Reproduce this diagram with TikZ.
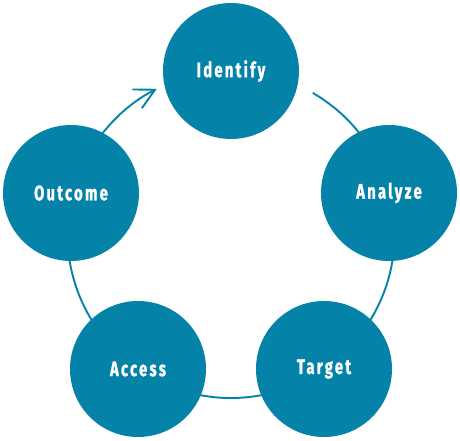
\documentclass[tikz,border=0pt]{standalone}
\usepackage{fontspec}
\setmainfont{Fira Sans}[FakeStretch=0.7,LetterSpace=11,FakeBold=1.2,UprightFont=* Bold]
\usetikzlibrary{arrows.meta}
\definecolor{teal}{RGB}{4,130,168}
\begin{document}
\begin{tikzpicture}[x=1pt,y=1pt,
  stage/.style={circle,fill=teal,minimum size=136pt,inner sep=0pt,text=white,font=\fontsize{21}{22}\selectfont},
  cyc/.style={draw=teal,line width=1.9pt}]
\useasboundingbox (0,0) rectangle (460,440);
\coordinate (c) at (231,205.5);
\draw[cyc,-{Straight Barb[length=20pt,width=21pt,line width=1.9pt]}]
  ([shift={(60:163.5)}]c) arc[start angle=60,end angle=-243,radius=163.5];
\node[stage] (identify) at (231,369) {Identify};
\node[stage] (analyze) at (389,247) {Analyze};
\node[stage] (target) at (324,71) {Target};
\node[stage] (access) at (138,71) {Access};
\node[stage] (outcome) at (71,247) {Outcome};
\end{tikzpicture}
\end{document}
